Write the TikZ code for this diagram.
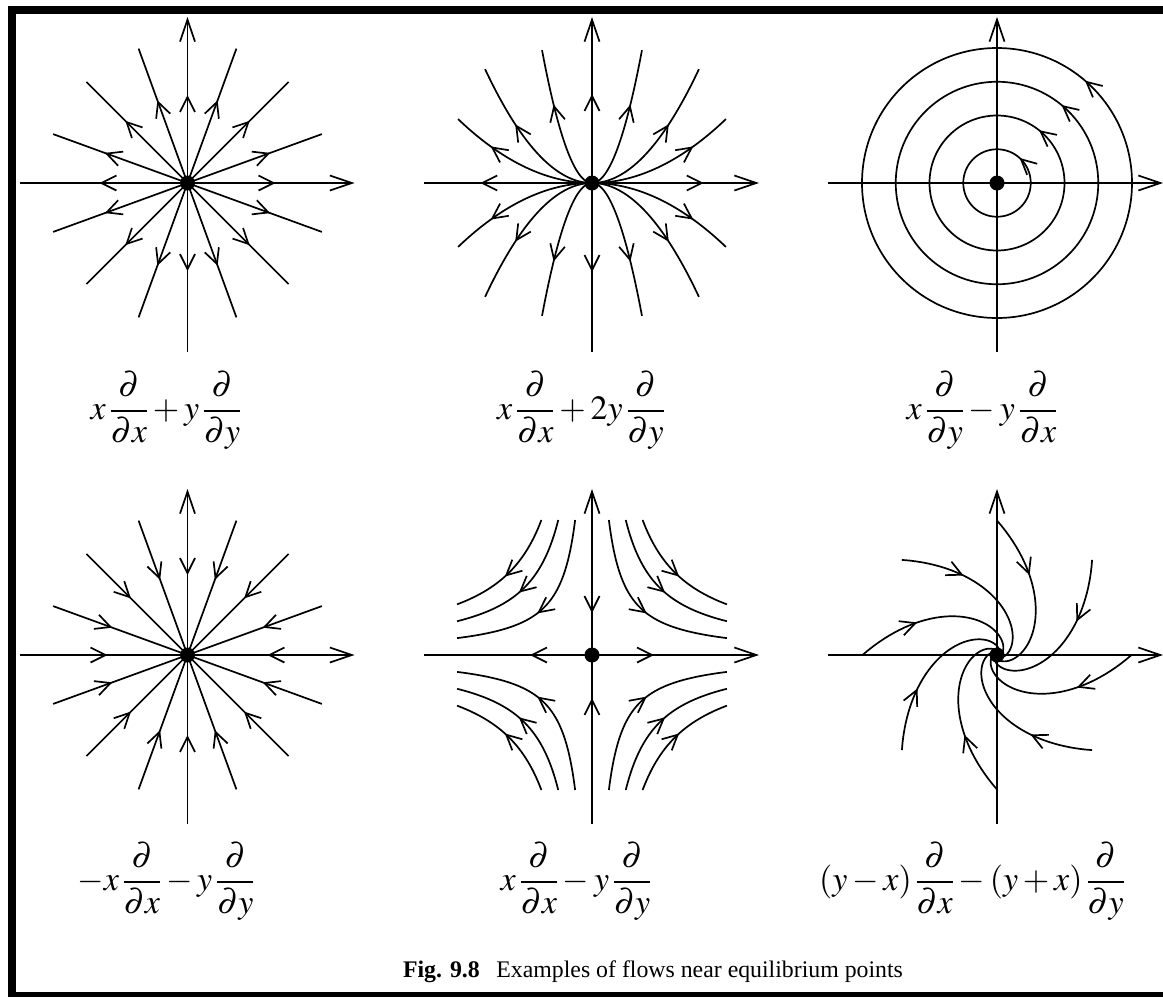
\documentclass[tikz,border=0pt]{standalone}
\usepackage{mathptmx}
\usepackage[no-math]{fontspec}
\setmainfont{Liberation Serif}
\usetikzlibrary{arrows.meta,decorations.markings}
\tikzset{
  mb/.tip={Straight Barb[length=15pt,width=15pt]},
  ab/.tip={Straight Barb[length=22pt,width=15pt]},
  flow/.style={line width=1.7pt,line join=round},
  axisline/.style={line width=1.7pt,-{ab}},
  mk/.style={postaction={decorate},decoration={markings,mark=at position #1 with {\arrow{mb}}}},
  eq/.style={anchor=base,font=\fontsize{34}{40}\selectfont},
  framebar/.style={fill=black}
}
\begin{document}
\begin{tikzpicture}[x=1pt,y=-1pt]
\useasboundingbox (0,0) rectangle (1163,997);
% frame
\fill[framebar] (8,6) rectangle (1163,14);
\fill[framebar] (8,6) rectangle (16,997);
\fill[framebar] (8,992) rectangle (1163,997);

% Panel 1: source
\begin{scope}[shift={(187.5,183)},yscale=-1]
  \foreach \a in {0,20,45,70,90,110,135,160,180,200,225,250,270,290,315,340}
    \draw[flow,mk=88pt] (0,0) -- (\a:143);
  \draw[axisline] (-168,0) -- (167,0);
  \draw[axisline] (0,-169) -- (0,166);
  \fill (0,0) circle (7.5);
\end{scope}

% Panel 2: x d/dx + 2y d/dy
\begin{scope}[shift={(592,183)},yscale=-1]
  \foreach \sx/\sy in {1/1,-1/1,1/-1,-1/-1}{
    \foreach \X/\Y/\p in {50/133/0.62,107/114/0.615,134/64/0.72}
      \draw[flow,mk=\p] plot[domain=0:1,samples=60] ({\sx*\X*\x},{\sy*\Y*\x*\x});
  }
  \draw[axisline] (-168,0) -- (167,0);
  \draw[axisline] (0,-169) -- (0,166);
  \draw[flow,-{mb}] (0,0) -- (111.7,0);
  \draw[flow,-{mb}] (0,0) -- (-111.7,0);
  \draw[flow,-{mb}] (0,0) -- (0,89);
  \draw[flow,-{mb}] (0,0) -- (0,-89);
  \fill (0,0) circle (7.5);
\end{scope}

% Panel 3: center
\begin{scope}[shift={(997,183)},yscale=-1]
  \foreach \k/\p in {1/0.133,2/0.143,3/0.140,4/0.137}
    \draw[flow,mk=\p] (0,0) circle[radius=33.75*\k];
  \draw[axisline] (-169,0) -- (166,0);
  \draw[axisline] (0,-169) -- (0,166);
  \fill (0,0) circle (7.5);
\end{scope}

% Panel 4: sink
\begin{scope}[shift={(187.5,655)},yscale=-1]
  \foreach \a in {0,20,45,70,90,110,135,160,180,200,225,250,270,290,315,340}
    \draw[flow,mk=63pt] (\a:143) -- (0,0);
  \draw[axisline] (-168,0) -- (167,0);
  \draw[axisline] (0,-169) -- (0,166);
  \fill (0,0) circle (7.5);
\end{scope}

% Panel 5: saddle
\begin{scope}[shift={(592,655)},yscale=-1]
  \foreach \sx/\sy in {1/1,-1/1,1/-1,-1/-1}{
    \foreach \k in {1,2,3}{
      \pgfmathsetmacro{\s}{135*sqrt(\k/8)}
      \pgfmathsetmacro{\T}{0.5*ln(8/\k)}
      \draw[flow,mk=0.55] plot[domain=-\T:\T,samples=60] ({\sx*\s*exp(\x)},{\sy*\s*exp(-\x)});
    }
  }
  \draw[axisline] (-168,0) -- (167,0);
  \draw[axisline] (0,-169) -- (0,166);
  \draw[flow,-{mb}] (0,0) -- (62,0);
  \draw[flow,-{mb}] (0,0) -- (-62,0);
  \draw[flow,-{mb}] (0,135) -- (0,42);
  \draw[flow,-{mb}] (0,-135) -- (0,-43);
  \fill (0,0) circle (7.5);
\end{scope}

% Panel 6: spiral sink
\begin{scope}[shift={(997,655)},yscale=-1]
  \foreach \t in {0,45,90,135,180,225,270,315}
    \draw[flow,mk=64pt] plot[domain=0:200,samples=100]
      ({134.5*exp(-1.15*\x*pi/180)*cos(\t-\x)},{134.5*exp(-1.15*\x*pi/180)*sin(\t-\x)});
  \draw[axisline] (-169,0) -- (166,0);
  \draw[axisline] (0,-169) -- (0,166);
  \fill (0,0) circle (7.5);
\end{scope}

% Equations
\node[eq] (e1) at (166,419.5) {$\displaystyle x\,\frac{\partial}{\partial x}+y\,\frac{\partial}{\partial y}$};
\node[eq] (e2) at (581,419.5) {$\displaystyle x\,\frac{\partial}{\partial x}+2y\,\frac{\partial}{\partial y}$};
\node[eq] (e3) at (982,419.5) {$\displaystyle x\,\frac{\partial}{\partial y}-y\,\frac{\partial}{\partial x}$};
\node[eq] (e4) at (166,890.5) {$\displaystyle -x\,\frac{\partial}{\partial x}-y\,\frac{\partial}{\partial y}$};
\node[eq] (e5) at (576,890.5) {$\displaystyle x\,\frac{\partial}{\partial x}-y\,\frac{\partial}{\partial y}$};
\node[eq] (e6) at (972,890.5) {$\displaystyle (y-x)\,\frac{\partial}{\partial x}-(y+x)\,\frac{\partial}{\partial y}$};

% Caption
\node[anchor=base,font=\fontsize{23.8}{28}\selectfont] (cap) at (653,977)
  {\textbf{Fig. 9.8}\hspace{0.7em}Examples of flows near equilibrium points};
\end{tikzpicture}
\end{document}
